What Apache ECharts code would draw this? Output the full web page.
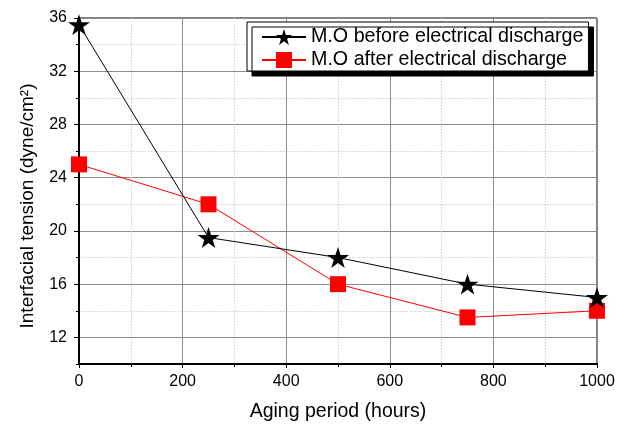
<!DOCTYPE html>
<html>
<head>
  <meta charset="utf-8">
  <title>interfacial tension</title>
  <script src="https://cdn.jsdelivr.net/npm/echarts@6/dist/echarts.min.js"></script>
  <style>
    html, body { margin: 0; padding: 0; background: #fff; }
    #main { width: 624px; height: 424px; }
  </style>
</head>
<body>
  <div id="main"></div>
  <script type="text/javascript">
    // data
    var hours = [0, 250, 500, 750, 1000];
    var beforeDischarge = [35.5, 19.5, 18, 16, 15];
    var afterDischarge = [25, 22, 16, 13.5, 14];
    var yMajorTicks = [12, 16, 20, 24, 28, 32, 36];
    var seriesNames = ['M.O before electrical discharge', 'M.O after electrical discharge'];

    var star = 'path://M50 0 L61.23 34.55 L97.55 34.55 L68.16 55.9 L79.39 90.45 L50 69.1 L20.61 90.45 L31.84 55.9 L2.45 34.55 L38.77 34.55 Z';
    var font = "'Liberation Sans', Arial, sans-serif";

    function pairs(xs, ys) {
      var out = [];
      for (var i = 0; i < xs.length; i++) out.push([xs[i], ys[i]]);
      return out;
    }

    var myChart = echarts.init(document.getElementById('main'), null, { renderer: 'canvas' });

    var option = {
      backgroundColor: '#fff',
      animation: false,
      grid: {
        left: 79, right: 27, top: 18, bottom: 60,
        outerBoundsMode: 'none',
        show: true, borderColor: '#000', borderWidth: 1
      },
      legend: {
        orient: 'vertical',
        left: 247, top: 22,
        padding: [5, 5, 1, 14],
        itemWidth: 44, itemHeight: 20, itemGap: 3,
        backgroundColor: '#fff',
        borderColor: '#000', borderWidth: 1,
        shadowColor: '#000', shadowBlur: 0, shadowOffsetX: 5, shadowOffsetY: 5,
        textStyle: { fontFamily: font, fontSize: 19.7, color: '#000' },
        data: seriesNames
      },
      xAxis: {
        type: 'value',
        min: 0, max: 1000, interval: 200,
        name: 'Aging period (hours)',
        nameLocation: 'middle', nameGap: 38,
        nameTextStyle: { fontFamily: font, fontSize: 19.5, color: '#000' },
        axisLine: { lineStyle: { color: '#000', width: 2 } },
        axisTick: { inside: false, length: 4, lineStyle: { color: '#000' } },
        minorTick: { show: true, splitNumber: 2, length: 3, lineStyle: { color: '#000' } },
        axisLabel: {
          fontFamily: font, fontSize: 16, color: '#000', margin: 10,
          formatter: function (v) { return String(v); }
        },
        splitLine: { show: true, lineStyle: { color: '#8c8c8c', width: 1 } },
        minorSplitLine: { show: true, lineStyle: { color: '#cfcfcf', type: [1.5, 1.5] } }
      },
      yAxis: [
        {
          type: 'value',
          min: 10, max: 36, interval: 2,
          name: 'Interfacial tension (dyne/cm\u00b2)',
          nameLocation: 'middle', nameGap: 42,
          nameTextStyle: { fontFamily: font, fontSize: 19, color: '#000', padding: [0, 30, 0, 0] },
          axisLine: { lineStyle: { color: '#000', width: 2 } },
          axisTick: { length: 3, lineStyle: { color: '#000' } },
          axisLabel: {
            fontFamily: font, fontSize: 16, color: '#000', margin: 12,
            formatter: function (v) { return v % 4 === 0 ? String(v) : ''; }
          },
          splitLine: { show: true, lineStyle: { color: '#cfcfcf', type: [1.5, 1.5] } }
        },
        {
          type: 'value',
          min: 10, max: 36,
          position: 'left',
          axisLine: { show: false },
          axisTick: { show: true, length: 5, customValues: yMajorTicks, lineStyle: { color: '#000' } },
          axisLabel: { show: false },
          splitLine: { show: true, lineStyle: { color: '#8c8c8c', width: 1 } }
        }
      ],
      series: [
        {
          name: seriesNames[0],
          type: 'line',
          data: pairs(hours, beforeDischarge),
          symbol: star, symbolSize: 22, symbolKeepAspect: true,
          itemStyle: { color: '#000' },
          lineStyle: { color: '#000', width: 1 },
          z: 3
        },
        {
          name: seriesNames[1],
          type: 'line',
          data: pairs(hours, afterDischarge),
          symbol: 'rect', symbolSize: 16,
          itemStyle: { color: '#ff0000' },
          lineStyle: { color: '#ff0000', width: 1 },
          z: 2
        }
      ]
    };

    myChart.setOption(option);
  </script>
</body>
</html>
